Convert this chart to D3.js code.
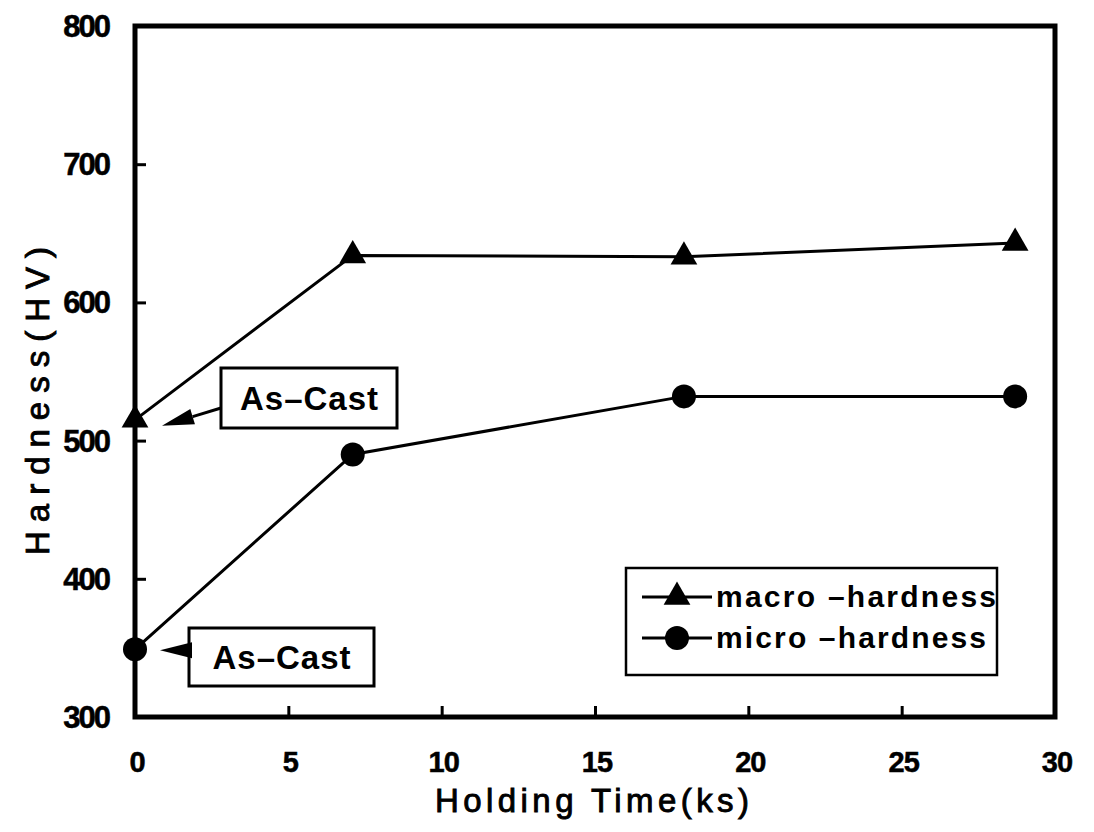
<!DOCTYPE html>
<html>
<head>
<meta charset="utf-8">
<script src="https://cdn.jsdelivr.net/npm/d3@7"></script>
<style>
  html, body { margin: 0; padding: 0; background: #fff; }
  svg { display: block; }
  text { font-family: "Liberation Sans", Arial, sans-serif; fill: #000; }
</style>
</head>
<body>
<svg id="chart" width="1094" height="832"></svg>
<script>
// Holding time (ks) and hardness (HV) readings
const holdingTime = [0, 7.1, 17.9, 28.7];
const macroHardness = [515, 634, 633, 643];
const microHardness = [349, 490, 532, 532];
const xTicks = [0, 5, 10, 15, 20, 25, 30];
const yTicks = [300, 400, 500, 600, 700, 800];
const seriesNames = ["macro \u2013hardness", "micro \u2013hardness"];
const noteText = "As\u2013Cast";

const svg = d3.select("#chart");

const x = d3.scaleLinear().domain([0, 30]).range([135, 1055]);
const y = d3.scaleLinear().domain([300, 800]).range([717, 26]);

const macro = holdingTime.map((t, i) => ({ t, v: macroHardness[i] }));
const micro = holdingTime.map((t, i) => ({ t, v: microHardness[i] }));

// Bottom axis: inward ticks, labels below the frame
const xAxis = d3.axisBottom(x).tickValues(xTicks.filter(d => d > 0 && d < 30))
  .tickSizeInner(-11).tickSizeOuter(0).tickFormat("");
const gx = svg.append("g").attr("transform", `translate(0,${y(300)})`).call(xAxis);
gx.select(".domain").remove();
gx.selectAll(".tick line").attr("stroke", "#000").attr("stroke-width", 3);

svg.append("g").selectAll("text").data(xTicks).join("text")
  .attr("x", d => x(d) + 2).attr("y", 772)
  .attr("text-anchor", "middle")
  .attr("font-size", 29).attr("font-weight", "bold")
  .attr("letter-spacing", -1)
  .attr("stroke", "#000").attr("stroke-width", 0.5)
  .text(d => d);

// Left axis: inward ticks, labels to the left
const yAxis = d3.axisLeft(y).tickValues(yTicks.filter(d => d > 300 && d < 800))
  .tickSizeInner(-11).tickSizeOuter(0).tickFormat("");
const gy = svg.append("g").attr("transform", `translate(${x(0)},0)`).call(yAxis);
gy.select(".domain").remove();
gy.selectAll(".tick line").attr("stroke", "#000").attr("stroke-width", 3);

svg.append("g").selectAll("text").data(yTicks).join("text")
  .attr("x", 109).attr("y", d => y(d) + 11)
  .attr("text-anchor", "end")
  .attr("font-size", 31).attr("font-weight", "bold")
  .attr("letter-spacing", -2)
  .attr("stroke", "#000").attr("stroke-width", 0.5)
  .text(d => d);

// Plot frame
svg.append("rect")
  .attr("x", x(0)).attr("y", y(800))
  .attr("width", x(30) - x(0)).attr("height", y(300) - y(800))
  .attr("fill", "none").attr("stroke", "#000").attr("stroke-width", 5);

// Axis titles
svg.append("text")
  .attr("x", 592).attr("y", 812)
  .attr("text-anchor", "middle")
  .attr("font-size", 33)
  .attr("stroke", "#000").attr("stroke-width", 0.9)
  .attr("textLength", 314).attr("lengthAdjust", "spacing")
  .text("Holding Time(ks)");

svg.append("text")
  .attr("transform", "translate(49,401) rotate(-90)")
  .attr("text-anchor", "middle")
  .attr("font-size", 33)
  .attr("stroke", "#000").attr("stroke-width", 0.9)
  .attr("textLength", 308).attr("lengthAdjust", "spacing")
  .text("Hardness(HV)");

// Series lines and markers
const line = d3.line().x(d => x(d.t)).y(d => y(d.v));
const triangle = d3.symbol().type(d3.symbolTriangle).size(310);

svg.append("path").datum(macro).attr("d", line)
  .attr("fill", "none").attr("stroke", "#000").attr("stroke-width", 3);
svg.append("path").datum(micro).attr("d", line)
  .attr("fill", "none").attr("stroke", "#000").attr("stroke-width", 3);

svg.append("g").selectAll("path").data(macro).join("path")
  .attr("d", triangle)
  .attr("transform", d => `translate(${x(d.t)},${y(d.v)})`)
  .attr("fill", "#000");
svg.append("g").selectAll("circle").data(micro).join("circle")
  .attr("cx", d => x(d.t)).attr("cy", d => y(d.v)).attr("r", 12)
  .attr("fill", "#000");

// "As-Cast" callouts pointing at the first point of each series
function callout(bx, by, bw, bh, tipX, tipY, fromY) {
  const g = svg.append("g");
  g.append("rect").attr("x", bx).attr("y", by).attr("width", bw).attr("height", bh)
    .attr("fill", "#fff").attr("stroke", "#000").attr("stroke-width", 3);
  g.append("text").attr("x", bx + bw / 2).attr("y", by + bh / 2 + 12)
    .attr("text-anchor", "middle").attr("font-size", 33).attr("font-weight", "bold")
    .attr("textLength", 138).attr("lengthAdjust", "spacing")
    .text(noteText);
  const ang = Math.atan2(tipY - fromY, tipX - bx);
  const len = 32, half = 8;
  const baseX = tipX - len * Math.cos(ang), baseY = tipY - len * Math.sin(ang);
  g.append("line").attr("x1", bx).attr("y1", fromY).attr("x2", baseX).attr("y2", baseY)
    .attr("stroke", "#000").attr("stroke-width", 3);
  g.append("path")
    .attr("d", `M${tipX},${tipY}L${baseX - half * Math.sin(ang)},${baseY + half * Math.cos(ang)}` +
               `L${baseX + half * Math.sin(ang)},${baseY - half * Math.cos(ang)}Z`)
    .attr("fill", "#000");
}
callout(221, 368, 176, 60, x(0) + 27, y(macroHardness[0]) + 6, 408);
callout(189, 628, 185, 58, x(0) + 25, y(microHardness[0]) + 1, y(microHardness[0]) + 1);

// Legend
const lg = svg.append("g");
lg.append("rect").attr("x", 626).attr("y", 568).attr("width", 371).attr("height", 107)
  .attr("fill", "#fff").attr("stroke", "#000").attr("stroke-width", 2.5);
const rows = [597, 638];
seriesNames.forEach((name, i) => {
  const ry = rows[i];
  lg.append("line").attr("x1", 642).attr("x2", 712).attr("y1", ry).attr("y2", ry)
    .attr("stroke", "#000").attr("stroke-width", 3);
  if (i === 0) {
    lg.append("path").attr("d", triangle).attr("transform", `translate(677,${ry})`).attr("fill", "#000");
  } else {
    lg.append("circle").attr("cx", 677).attr("cy", ry).attr("r", 12).attr("fill", "#000");
  }
  lg.append("text").attr("x", 716).attr("y", ry + 10)
    .attr("font-size", 30).attr("font-weight", "bold")
    .attr("textLength", i === 0 ? 280 : 270).attr("lengthAdjust", "spacing")
    .text(name);
});
</script>
</body>
</html>
